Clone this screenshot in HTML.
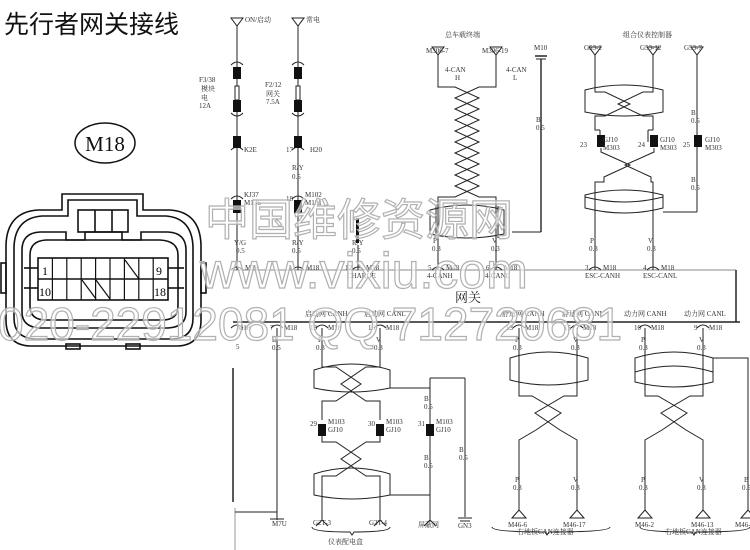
<!DOCTYPE html>
<html><head><meta charset="utf-8"><style>
html,body{margin:0;padding:0;background:#fff;}
svg{display:block;}
.s{font-family:"Liberation Serif","Noto Serif CJK SC",serif;font-size:7px;fill:#333;}
.wm{font-family:"Liberation Sans","Noto Sans CJK SC",sans-serif;fill:#fff;fill-opacity:0.6;stroke:#b0b0b0;stroke-width:1.2;}
</style></head><body>
<svg width="750" height="550" viewBox="0 0 750 550" xmlns="http://www.w3.org/2000/svg">
<rect width="750" height="550" fill="#fff"/>
<text x="4" y="33" style="font-family:'Liberation Sans','Noto Sans CJK SC',sans-serif;font-size:25px;fill:#111">先行者网关接线</text>

<ellipse cx="105" cy="143" rx="30" ry="20" fill="none" stroke="#111" stroke-width="1.5"/>
<text x="105" y="151" text-anchor="middle" style="font-family:'Liberation Serif',serif;font-size:21px;fill:#111">M18</text>

<g fill="none" stroke="#111" stroke-width="1.6">
<path d="M62,194 H143 V210 H170 Q200,212 201,245 V320 Q201,345 178,346 H30 Q6,345 6,320 V245 Q7,212 38,210 H62 Z"/>
<path d="M68,200 H137 V216 H166 Q192,218 193,247 V318 Q193,338 173,339 H35 Q14,338 14,318 V247 Q15,218 42,216 H68 Z"/>
<rect x="78" y="210" width="50" height="22"/>
<line x1="95" y1="210" x2="95" y2="232"/><line x1="112" y1="210" x2="112" y2="232"/>
<path d="M40,232 H66 V240 H85 V232 H122 V240 H141 V232 H168 Q186,233 186,250 V312 Q186,327 168,328 H40 Q22,327 22,312 V250 Q22,233 40,232 Z"/>
<path d="M46,240 H160 Q178,241 178,255 V306 Q178,320 162,320 H46 Q30,320 30,306 V255 Q30,241 46,240 Z"/>
<rect x="38" y="258" width="130" height="42"/>
<line x1="38" y1="279" x2="168" y2="279"/>
<line x1="24" y1="268" x2="38" y2="268"/><line x1="24" y1="288" x2="38" y2="288"/>
<line x1="168" y1="268" x2="184" y2="268"/><line x1="168" y1="288" x2="184" y2="288"/>
<rect x="1" y="263" width="5" height="30"/><rect x="201" y="263" width="5" height="30"/>
<rect x="66" y="344" width="14" height="5"/><rect x="126" y="344" width="14" height="5"/>
</g>
<g stroke="#111" stroke-width="1.2">
<line x1="52.4" y1="258" x2="52.4" y2="300"/><line x1="66.8" y1="258" x2="66.8" y2="300"/>
<line x1="81.2" y1="258" x2="81.2" y2="300"/><line x1="95.6" y1="258" x2="95.6" y2="300"/>
<line x1="110" y1="258" x2="110" y2="300"/><line x1="124.4" y1="258" x2="124.4" y2="300"/>
<line x1="138.8" y1="258" x2="138.8" y2="300"/><line x1="153.2" y1="258" x2="153.2" y2="300"/>
<line x1="125" y1="260" x2="139" y2="279"/><line x1="82" y1="280" x2="96" y2="299"/><line x1="96" y1="280" x2="110" y2="299"/>
</g>
<text x="42" y="275" style="font-family:'Liberation Serif',serif;font-size:12px">1</text>
<text x="156" y="275" style="font-family:'Liberation Serif',serif;font-size:12px">9</text>
<text x="39" y="296" style="font-family:'Liberation Serif',serif;font-size:12px">10</text>
<text x="154" y="296" style="font-family:'Liberation Serif',serif;font-size:12px">18</text>

<g fill="none" stroke="#222" stroke-width="1">
<line x1="232" y1="270" x2="736" y2="270" stroke="#888"/>
<line x1="736" y1="270" x2="736" y2="322" stroke-width="1.5"/>
<line x1="233" y1="322" x2="740" y2="322" stroke-width="1.5"/>
</g>
<text x="455" y="302" style="font-family:'Liberation Serif','Noto Serif CJK SC',serif;font-size:13px;fill:#222">网关</text>

<g fill="none" stroke="#222" stroke-width="1">
<path d="M231,18 H243 L237,26 Z"/><line x1="237" y1="26" x2="237" y2="270"/>
<path d="M292,18 H304 L298,26 Z"/><line x1="298" y1="26" x2="298" y2="270"/>
<rect x="235" y="86" width="4" height="14" fill="#fff"/><rect x="296" y="86" width="4" height="14" fill="#fff"/>
<path d="M231,65 Q237,59 243,65"/><path d="M292,65 Q298,59 304,65"/>
<path d="M231,113 Q237,119 243,113"/><path d="M292,113 Q298,119 304,113"/>
<path d="M231,150 Q237,144 243,150"/><path d="M292,150 Q298,144 304,150"/>
<path d="M231,199 Q237,193 243,199"/><path d="M292,199 Q298,193 304,199"/>
<path d="M231,270 Q237,264 243,270"/><path d="M292,270 Q298,264 304,270"/><path d="M352,270 Q358,264 364,270"/>
<line x1="358" y1="245" x2="358" y2="270"/>
<path d="M432,47 H444 L438,55 Z"/><path d="M490,47 H502 L496,55 Z"/>
<polyline points="438,55 438,87 455,87 479,98 455,109 479,120 455,131 479,142 455,153 479,164 455,175 479,186 455,197 438,197 438,270"/>
<polyline points="496,55 496,87 479,87 455,98 479,109 455,120 479,131 455,142 479,153 455,164 479,175 455,186 479,197 496,197 496,270"/>
<path d="M430,210 Q467,200 504,210 V234 Q467,242 430,234 Z"/>
<path d="M436,206 V238 M498,206 V238"/>
<path d="M432,270 Q438,264 444,270"/><path d="M490,270 Q496,264 502,270"/>
<line x1="535" y1="56" x2="547" y2="56" stroke-width="1.5"/><line x1="536" y1="59" x2="546" y2="59"/>
<line x1="541" y1="59" x2="541" y2="232" stroke-width="1.4"/><line x1="541" y1="232" x2="512" y2="232"/>
<path d="M589,47 H601 L595,55 Z"/><path d="M647,47 H659 L653,55 Z"/><path d="M691,47 H703 L697,55 Z"/>
<polyline points="595,55 595,92 605,92 630,104 605,116 595,116 595,130 600,130"/>
<polyline points="653,55 653,92 643,92 618,104 643,116 653,116 653,130 648,130"/>
<path d="M585,90 Q624,80 663,90 V112 Q624,120 585,112 Z"/>
<path d="M600,130 V142 M648,130 V142"/>
<polyline points="601,148 601,152 630,165 604,177 604,182 595,182 595,270"/>
<polyline points="654,148 654,152 625,165 651,177 651,182 653,182 653,270"/>
<path d="M585,195 Q624,185 663,195 V208 Q624,218 585,208 Z"/>
<path d="M585,197 Q624,207 663,197"/>
<line x1="697" y1="55" x2="697" y2="212"/><line x1="697" y1="212" x2="663" y2="212"/>
<path d="M589,270 Q595,264 601,270"/><path d="M647,270 Q653,264 659,270"/>
</g>
<g fill="#111">
<rect x="233" y="67" width="8" height="12"/><rect x="233" y="100" width="8" height="12"/><rect x="233" y="136" width="8" height="12"/><rect x="233" y="200" width="8" height="13"/>
<rect x="294" y="67" width="8" height="12"/><rect x="294" y="100" width="8" height="12"/><rect x="294" y="136" width="8" height="12"/><rect x="294" y="200" width="8" height="13"/>
<rect x="356" y="218" width="3" height="25"/>
<rect x="597" y="135" width="8" height="12"/><rect x="650" y="135" width="8" height="12"/><rect x="694" y="135" width="8" height="12"/>
</g>

<g fill="none" stroke="#222" stroke-width="1">
<path d="M231,328 Q237,322 243,328"/><path d="M271,328 Q277,322 283,328"/><path d="M316,328 Q322,322 328,328"/><path d="M374,328 Q380,322 386,328"/>
<path d="M513,328 Q519,322 525,328"/><path d="M571,328 Q577,322 583,328"/><path d="M639,328 Q645,322 651,328"/><path d="M697,328 Q703,322 709,328"/>
<line x1="233" y1="368" x2="233" y2="502" stroke-width="1.5"/>
<line x1="235" y1="508" x2="235" y2="550" stroke="#999"/>
<polyline points="235,512 277,512"/>
<line x1="277" y1="328" x2="277" y2="520"/><line x1="270" y1="519" x2="284" y2="519"/>
<polyline points="322,328 322,362 322,367 336,367 361,384 336,401 322,401 322,420"/>
<polyline points="380,328 380,362 380,367 366,367 341,384 366,401 380,401 380,420"/>
<path d="M314,370 Q351,358 390,370 V388 Q351,396 314,388 Z"/>
<line x1="390" y1="388" x2="430" y2="388"/>
<polyline points="322,436 322,442 336,442 361,459 336,476 322,476 322,520"/>
<polyline points="380,436 380,442 366,442 341,459 366,476 380,476 380,520"/>
<path d="M314,474 Q351,462 390,474 V495 Q351,503 314,495 Z"/>
<line x1="390" y1="495" x2="430" y2="495"/>
<path d="M316,526 L322,520 L328,526 M374,526 L380,520 L386,526"/>
<line x1="430" y1="378" x2="430" y2="520"/><path d="M424,526 L430,520 L436,526"/>
<line x1="430" y1="378" x2="465" y2="378"/><line x1="465" y1="378" x2="465" y2="517"/>
<line x1="458" y1="518" x2="472" y2="518"/><line x1="460" y1="521" x2="470" y2="521"/>
<path d="M312,527 Q312,532 350,532 L352,535 L354,532 Q390,532 390,527"/>
<polyline points="519,328 519,396 532,396 561,413 536,430 519,440 519,510"/>
<polyline points="577,328 577,396 564,396 535,413 560,430 577,440 577,510"/>
<path d="M510,358 Q548,346 588,358 V380 Q548,390 510,380 Z"/>
<polyline points="645,328 645,396 658,396 687,413 662,430 645,440 645,510"/>
<polyline points="703,328 703,396 690,396 661,413 686,430 703,440 703,510"/>
<path d="M635,358 Q674,346 713,358 V382 Q674,392 635,382 Z"/>
<path d="M635,372 Q674,360 713,372"/>
<polyline points="713,358 748,358 748,510"/>
<path d="M512,518 L519,510 L526,518 Z M570,518 L577,510 L584,518 Z M638,518 L645,510 L652,518 Z M696,518 L703,510 L710,518 Z M741,518 L748,510 L755,518 Z"/>
<path d="M492,527 Q492,532 545,532 L547,535 L549,532 Q610,532 610,527"/>
<path d="M640,527 Q640,532 692,532 L694,535 L696,532 Q750,532 750,527"/>
</g>
<g fill="#111"><rect x="318" y="424" width="8" height="12"/><rect x="376" y="424" width="8" height="12"/><rect x="426" y="424" width="8" height="12"/></g>

<g class="s">
<text x="245" y="22">ON/启动</text><text x="306" y="22">常电</text>
<text x="199" y="82">F3/38</text><text x="201" y="91">模块</text><text x="201" y="100">电</text><text x="199" y="108">12A</text>
<text x="265" y="87">F2/12</text><text x="266" y="96">网关</text><text x="266" y="104">7.5A</text>
<text x="244" y="152">K2E</text><text x="286" y="152">17</text><text x="310" y="152">H20</text>
<text x="292" y="170">R/Y</text><text x="292" y="179">0.5</text>
<text x="244" y="197">KJ37</text><text x="244" y="205">M136</text>
<text x="286" y="201">18</text><text x="305" y="197">M102</text><text x="305" y="205">M101</text>
<text x="234" y="245">Y/G</text><text x="236" y="253">0.5</text>
<text x="292" y="245">R/Y</text><text x="292" y="253">0.5</text>
<text x="352" y="245">R/Y</text><text x="352" y="253">0.5</text>
<text x="245" y="270">M18</text><text x="288" y="270">1</text><text x="306" y="270">M18</text>
<text x="345" y="270">12</text><text x="366" y="270">M18</text><text x="347" y="278">CHARGE</text>
<text x="433" y="243">P</text><text x="432" y="251">0.3</text><text x="492" y="243">V</text><text x="491" y="251">0.3</text>
<text x="428" y="270">5</text><text x="446" y="270">M18</text><text x="427" y="278">4-CANH</text>
<text x="486" y="270">6</text><text x="504" y="270">M18</text><text x="485" y="278">4-CANL</text>
<text x="590" y="243">P</text><text x="589" y="251">0.3</text><text x="648" y="243">V</text><text x="647" y="251">0.3</text>
<text x="585" y="270">3</text><text x="603" y="270">M18</text><text x="585" y="278">ESC-CANH</text>
<text x="643" y="270">4</text><text x="661" y="270">M18</text><text x="643" y="278">ESC-CANL</text>
<text x="426" y="53">M306-7</text><text x="482" y="53">M306-19</text><text x="534" y="50">M10</text>
<text x="445" y="72">4-CAN</text><text x="455" y="80">H</text><text x="506" y="72">4-CAN</text><text x="513" y="80">L</text>
<text x="445" y="37">总车载终端</text>
<text x="536" y="122">B</text><text x="536" y="130">0.5</text>
<text x="623" y="37">组合仪表控制器</text>
<text x="584" y="50">G53-2</text><text x="640" y="50">G53-12</text><text x="684" y="50">G53-7</text>
<text x="691" y="115">B</text><text x="691" y="123">0.5</text>
<text x="580" y="147">23</text><text x="603" y="142">GJ10</text><text x="603" y="150">M303</text>
<text x="638" y="147">24</text><text x="660" y="142">GJ10</text><text x="660" y="150">M303</text>
<text x="683" y="147">25</text><text x="705" y="142">GJ10</text><text x="705" y="150">M303</text>
<text x="691" y="182">B</text><text x="691" y="190">0.5</text>
<text x="237" y="330">M18</text><text x="270" y="330">7</text><text x="284" y="330">M18</text>
<text x="305" y="316">启动网 CANH</text><text x="364" y="316">启动网 CANL</text>
<text x="310" y="330">13</text><text x="328" y="330">M18</text><text x="368" y="330">16</text><text x="386" y="330">M18</text>
<text x="502" y="316">舒适网 CANH</text><text x="562" y="316">舒适网 CANL</text>
<text x="624" y="316">动力网 CANH</text><text x="684" y="316">动力网 CANL</text>
<text x="506" y="330">13</text><text x="525" y="330">M18</text><text x="564" y="330">15</text><text x="583" y="330">M18</text>
<text x="634" y="330">10</text><text x="651" y="330">M18</text><text x="694" y="330">9</text><text x="709" y="330">M18</text>
<text x="236" y="349">5</text>
<text x="272" y="342">B</text><text x="272" y="350">0.5</text>
<text x="318" y="342">P</text><text x="316" y="350">0.3</text><text x="376" y="342">V</text><text x="374" y="350">0.3</text>
<text x="515" y="342">P</text><text x="513" y="350">0.3</text><text x="573" y="342">V</text><text x="571" y="350">0.3</text>
<text x="641" y="342">P</text><text x="639" y="350">0.3</text><text x="699" y="342">V</text><text x="697" y="350">0.3</text>
<text x="424" y="401">B</text><text x="424" y="409">0.5</text>
<text x="310" y="426">29</text><text x="328" y="424">M103</text><text x="328" y="432">GJ10</text>
<text x="368" y="426">30</text><text x="386" y="424">M103</text><text x="386" y="432">GJ10</text>
<text x="418" y="426">31</text><text x="436" y="424">M103</text><text x="436" y="432">GJ10</text>
<text x="424" y="460">B</text><text x="424" y="468">0.5</text>
<text x="459" y="452">B</text><text x="459" y="460">0.5</text>
<text x="272" y="526">M7U</text>
<text x="313" y="525">G2T-3</text><text x="369" y="525">G2T-4</text><text x="418" y="527">屏蔽网</text><text x="458" y="528">GN3</text>
<text x="328" y="544">仪表配电盒</text>
<text x="515" y="482">P</text><text x="513" y="490">0.3</text><text x="573" y="482">V</text><text x="571" y="490">0.3</text>
<text x="641" y="482">P</text><text x="639" y="490">0.3</text><text x="699" y="482">V</text><text x="697" y="490">0.3</text>
<text x="744" y="482">B</text><text x="742" y="490">0.5</text>
<text x="508" y="527">M46-6</text><text x="563" y="527">M46-17</text><text x="635" y="527">M46-2</text><text x="691" y="527">M46-13</text><text x="735" y="527">M46-</text>
<text x="517" y="534">右地板CAN连接器</text><text x="665" y="534">右地板CAN连接器</text>
</g>

<g class="wm">
<text x="205" y="235" style="font-size:44px">中国维修资源网</text>
<text x="200" y="288" style="font-size:50px">www.vixiu.com</text>
<text x="-2" y="340" style="font-size:46px">020-22912081 QQ 712720681</text>
</g>
</svg>
</body></html>
